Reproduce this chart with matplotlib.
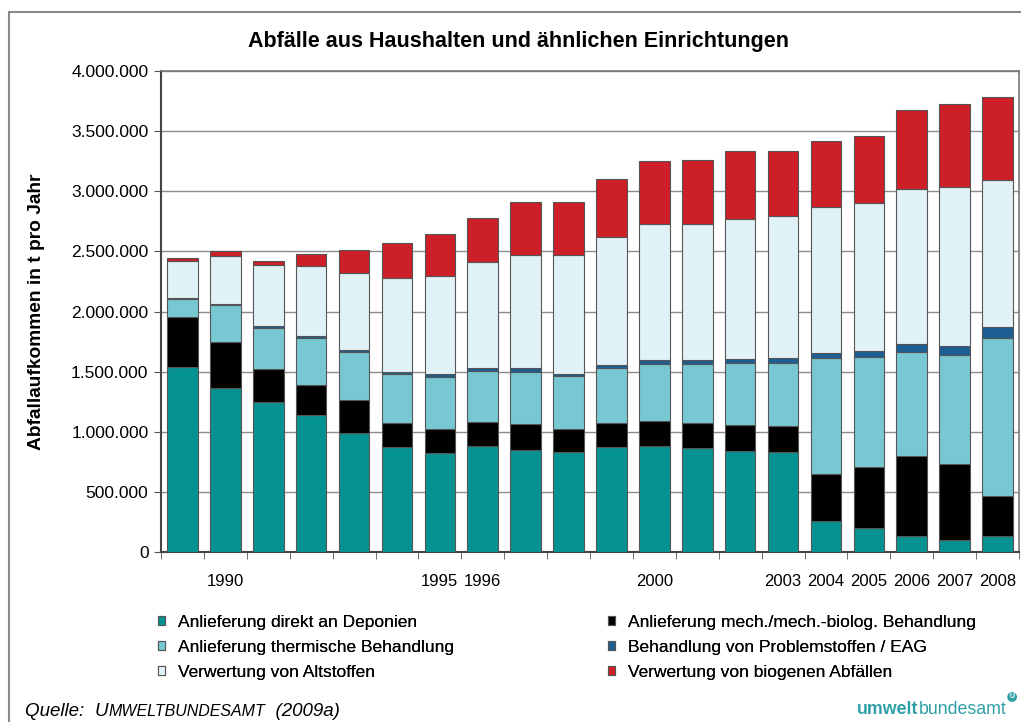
import numpy as np
import matplotlib.pyplot as plt
from matplotlib.patches import Rectangle
from matplotlib.ticker import FuncFormatter, MultipleLocator

plt.rcParams['font.family'] = ['Liberation Sans', 'DejaVu Sans']

# Jahre und Werte (in 1000 t)
years = list(range(1989, 2009))
shown_years = [1990, 1995, 1996, 2000, 2003, 2004, 2005, 2006, 2007, 2008]

deponie = [1538, 1364, 1248, 1142, 988, 871, 824, 880, 852, 833,
           874, 885, 863, 844, 830, 257, 196, 130, 102, 130]
mba = [418, 384, 276, 244, 273, 202, 200, 202, 210, 193,
       202, 208, 210, 215, 216, 393, 515, 667, 626, 337]
thermisch = [146, 307, 338, 393, 404, 407, 431, 426, 437, 435,
             454, 473, 490, 509, 522, 963, 913, 868, 907, 1309]
problemstoffe = [8, 9, 14, 19, 17, 17, 22, 22, 33, 22,
                 27, 33, 30, 36, 42, 44, 47, 67, 75, 94]
altstoffe = [310, 398, 511, 578, 642, 782, 819, 879, 941, 990,
             1060, 1129, 1135, 1168, 1184, 1214, 1234, 1283, 1327, 1223]
biogen = [28, 41, 36, 100, 188, 288, 349, 368, 434, 437,
          481, 522, 528, 559, 539, 548, 558, 664, 692, 691]

series = [
    ("Anlieferung direkt an Deponien", deponie, "#079292"),
    ("Anlieferung mech./mech.-biolog. Behandlung", mba, "#000000"),
    ("Anlieferung thermische Behandlung", thermisch, "#77c8d3"),
    ("Behandlung von Problemstoffen / EAG", problemstoffe, "#1d5e93"),
    ("Verwertung von Altstoffen", altstoffe, "#e1f2f7"),
    ("Verwertung von biogenen Abfällen", biogen, "#cc1f28"),
]

W, H = 1021, 722
fig = plt.figure(figsize=(W / 100, H / 100), dpi=100)
ax = fig.add_axes([161/W, 1 - 552/H, 858/W, 481/H])

x = np.arange(len(years))
bottom = np.zeros(len(years))
handles = []
for name, vals, col in series:
    v = np.array(vals) * 1000.0
    b = ax.bar(x, v, 0.715, bottom=bottom, color=col, edgecolor="#555555",
               linewidth=0.8, zorder=3, label=name)
    handles.append(b)
    bottom += v

ax.set_xlim(-0.5, len(years) - 0.5)
ax.set_ylim(0, 4000000)
ax.yaxis.set_major_locator(MultipleLocator(500000))
ax.yaxis.set_major_formatter(FuncFormatter(lambda v, p: f"{int(v):,}".replace(",", ".")))
ax.grid(axis="y", color="#8c8c8c", linewidth=1.0, zorder=0)

ax.set_xticks(x)
ax.set_xticklabels([str(y) if y in shown_years else "" for y in years])
ax.set_xticks(np.arange(-0.5, len(years)), minor=True)
ax.tick_params(axis="x", which="major", length=0, pad=16, labelsize=12)
ax.tick_params(axis="x", which="minor", length=5, color="#555555", direction="out")
ax.tick_params(axis="y", length=5, color="#555555", labelsize=12.5, pad=4)

for side in ["left", "bottom"]:
    ax.spines[side].set_color("#444444")
    ax.spines[side].set_linewidth(1.5)
for side in ["top", "right"]:
    ax.spines[side].set_color("#777777")
    ax.spines[side].set_linewidth(1.2)

ax.set_ylabel("Abfallaufkommen in t pro Jahr", fontsize=13.8, fontweight="bold")
ax.yaxis.set_label_coords(-0.135, 0.5)

fig.text(518/W, 1 - 42/H, "Abfälle aus Haushalten und ähnlichen Einrichtungen",
         ha="center", va="center", fontsize=15.5, fontweight="bold")

# Legende: zwei Spalten als zwei Legenden
leg_kw = dict(loc="upper left", frameon=False, fontsize=12.5, borderpad=0,
              handlelength=0.42, handleheight=0.42, handletextpad=0.74,
              labelspacing=0.58)
for col_idx, x0 in [((0, 2, 4), 149), ((1, 3, 5), 599)]:
    lg = fig.legend([handles[i] for i in col_idx], [series[i][0] for i in col_idx],
                    bbox_to_anchor=(x0 / W, 1 - 606 / H), **leg_kw)
    fig.add_artist(lg)

# Rahmen
fig.add_artist(Rectangle((9/W, -0.05), 1.2, 1 - 12/H + 0.05,
                         transform=fig.transFigure, fill=False,
                         edgecolor="#8a8a8a", linewidth=1.5))

fig.canvas.draw()
r = fig.canvas.get_renderer()


def put_row(parts, x0, y0):
    xp = x0
    for txt, kw in parts:
        t = fig.text(xp / W, 1 - y0 / H, txt, ha="left", va="baseline", **kw)
        xp += t.get_window_extent(renderer=r).width
    return xp


# Quelle
put_row([("Quelle:  ", dict(fontsize=13.5, style="italic")),
         ("U", dict(fontsize=13.5, style="italic")),
         ("MWELTBUNDESAMT", dict(fontsize=11.5, style="italic")),
         ("  (2009a)", dict(fontsize=13.5, style="italic"))], 25, 716)

# Logo
end = put_row([("umwelt", dict(fontsize=12.8, fontweight="bold", color="#2f9fa5")),
               ("bundesamt", dict(fontsize=12.8, color="#2f9fa5"))], 857, 714)
fig.text((end + 6) / W, 1 - 697 / H, "U", fontsize=5, fontweight="bold",
         color="white", ha="center", va="center",
         bbox=dict(boxstyle="circle,pad=0.2", fc="#2f9fa5", ec="none"))

fig.savefig("out.png", dpi=100)
